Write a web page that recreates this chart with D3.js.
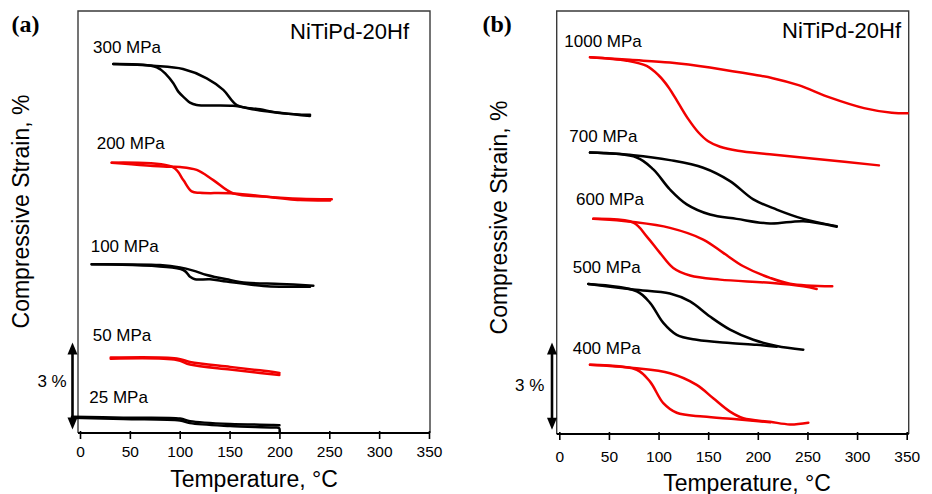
<!DOCTYPE html>
<html><head><meta charset="utf-8">
<script src="https://cdn.jsdelivr.net/npm/d3@7"></script>
<style>
body{margin:0;background:#fff}
svg{display:block}
text{font-family:"Liberation Sans",Arial,sans-serif;fill:#000}
</style>
</head><body>
<svg id="chart" width="932" height="494"></svg>
<script>
// ---------------- DATA ----------------
const xTicks = [0, 50, 100, 150, 200, 250, 300, 350];
const panelLabels = ["(a)", "(b)"];
const alloyName = "NiTiPd-20Hf";
const xTitle = "Temperature, °C";
const yTitle = "Compressive Strain, %";
const scaleBarLabel = "3 %";
const scaleBarStrain = 3;           // % strain represented by the arrow
const scaleBarStartA = 0.12;
const scaleBarStartB = 0.15;

const loadsA = ["300 MPa", "200 MPa", "100 MPa", "50 MPa", "25 MPa"];
const loadsB = ["1000 MPa", "700 MPa", "600 MPa", "500 MPa", "400 MPa"];

// [temperature °C, strain %] ; heating branch (late transition) and cooling branch (early transition)
const heat300 = [[33.4,12.72],[73.5,12.66],[103.3,12.55],[127.1,12.23],[143.7,11.83],[157.2,11.31],[180.5,11.16],[203.9,11.02],[230.7,10.97]];
const cool300 = [[33.4,12.72],[76.9,12.61],[87,12.34],[93.6,12.06],[98.6,11.77],[105.3,11.54],[110.3,11.39],[117,11.31],[153.5,11.28],[180.5,11.12],[230.7,10.93]];
const heat200 = [[31.8,9.32],[87,9.18],[100.3,9.17],[117,9.07],[133.7,8.72],[153.8,8.26],[187.3,8.15],[220.7,8.08],[252.5,8.06]];
const cool200 = [[31.8,9.32],[93.6,9.16],[103.6,8.72],[112,8.33],[120.4,8.28],[153.8,8.26],[220.7,8.03],[250.8,8.02]];
const heat100 = [[11.7,5.82],[80.2,5.79],[100.3,5.71],[113.6,5.60],[127.1,5.45],[147.1,5.30],[167.2,5.18],[200.6,5.14],[234,5.08]];
const cool100 = [[11.7,5.82],[103.6,5.62],[110.3,5.39],[115.3,5.30],[130.4,5.30],[147.1,5.22],[183.9,5.07],[230.7,5.04]];
const heat50  = [[30.8,2.60],[97,2.57],[110.3,2.45],[150.5,2.28],[180.5,2.16],[200,2.07]];
const cool50  = [[30.8,2.56],[97,2.52],[110.3,2.36],[150.5,2.19],[180.5,2.07],[200,2.00]];
const heat25  = [[-8,0.56],[43.5,0.53],[100.3,0.50],[110.3,0.41],[150.5,0.31],[194,0.28],[200,0.27]];
const cool25  = [[-8,0.53],[43.5,0.48],[100.3,0.43],[110.3,0.34],[150.5,0.24],[194,0.19],[199.7,0.17],[200.2,0.05]];

const heat1000 = [[30.9,12.96],[71.2,12.87],[111.5,12.78],[151.8,12.61],[192.1,12.38],[215,12.24],[241,12.00],[273,11.57],[307,11.21],[335,11.05],[351,11.03]];
const cool1000 = [[30.9,12.96],[67.9,12.84],[88,12.66],[100,12.34],[110,11.93],[120,11.38],[130,10.83],[140,10.38],[150,10.07],[162,9.88],[180,9.74],[212,9.62],[262,9.45],[322,9.24]];
const heat700 = [[30.9,9.68],[74.6,9.59],[111.5,9.42],[145,9.16],[172,8.70],[195.5,8.07],[219,7.72],[245.8,7.40],[279.5,7.15]];
const cool700 = [[30.9,9.68],[78,9.51],[94.7,9.10],[111.5,8.41],[128.4,7.90],[151.8,7.55],[178.7,7.40],[212.3,7.24],[245.8,7.32],[279.5,7.13]];
const heat600 = [[34.3,7.40],[74.6,7.29],[111.5,7.09],[145,6.69],[165.2,6.23],[185.4,5.77],[212.3,5.37],[232.4,5.17],[275,5.08]];
const cool600 = [[34.3,7.40],[74.6,7.27],[88,6.80],[101.4,6.23],[114.8,5.71],[131.7,5.45],[161.9,5.31],[212.3,5.20],[245.8,5.08],[259.3,4.99]];
const heat500 = [[29.2,5.16],[74.6,4.97],[111.5,4.83],[131.7,4.56],[151.8,4.04],[172,3.59],[195.5,3.24],[219,3.03],[245.8,2.90]];
const cool500 = [[29.2,5.16],[78,4.91],[91.4,4.51],[104.8,3.82],[118.3,3.41],[138.4,3.24],[172,3.13],[198.9,3.07],[219,3.00]];
const heat400 = [[30.9,2.38],[74.6,2.27],[111.5,2.09],[138.4,1.69],[155.1,1.23],[172,0.77],[185.4,0.54],[212.3,0.42],[232.4,0.33],[250.9,0.39]];
const cool400 = [[30.9,2.38],[78,2.21],[91.4,1.80],[104.8,1.06],[118.3,0.73],[145,0.60],[178.7,0.51],[212.3,0.40]];

// ---------------- LAYOUT / STYLE ----------------
const RED = "#f20000", BLACK = "#000";
const panels = [
  {
    label: panelLabels[0], loads: loadsA,
    heat: [heat300, heat200, heat100, heat50, heat25],
    cool: [cool300, cool200, cool100, cool50, cool25],
    colors: [BLACK, RED, BLACK, RED, BLACK],
    xr: [80, 429], yr: [433, 11], frame: {l: 78, r: 430, t: 11, b: 433},
    labelPos: [[93,53],[96.7,149.3],[90.7,251.5],[92.7,341],[89.3,402.7]],
    panelLabelPos: [11.5, 31.5], alloyPos: [409, 39.3],
    yTitlePos: [29, 211.5], xTitlePos: [254, 486.5], tickY: 457,
    barX: 72.5, barStart: scaleBarStartA, barTextPos: [66.7, 386.7]
  },
  {
    label: panelLabels[1], loads: loadsB,
    heat: [heat1000, heat700, heat600, heat500, heat400],
    cool: [cool1000, cool700, cool600, cool500, cool400],
    colors: [RED, BLACK, RED, BLACK, RED],
    xr: [559.3, 906.7], yr: [434, 11], frame: {l: 556.7, r: 908.7, t: 11, b: 434},
    labelPos: [[564.3,46.7],[569.3,141.7],[576,205],[572.7,272.7],[572.7,354.3]],
    panelLabelPos: [482.5, 31.5], alloyPos: [901, 38.3],
    yTitlePos: [507, 217.5], xTitlePos: [747, 490.5], tickY: 461.5,
    barX: 552, barStart: scaleBarStartB, barTextPos: [544.3, 390.7]
  }
];

const svg = d3.select("#chart");

panels.forEach(p => {
  const x = d3.scaleLinear().domain([0, 350]).range(p.xr);
  const y = d3.scaleLinear().domain([0, 14.55]).range(p.yr);
  const g = svg.append("g");
  const f = p.frame;

  // frame
  g.append("path")
    .attr("d", `M${f.l},${f.b}V${f.t}H${f.r}V${f.b}`)
    .attr("fill", "none").attr("stroke", "#3a3a3a").attr("stroke-width", 1.4);

  // bottom axis
  const ax = g.append("g").attr("transform", `translate(0,${f.b})`)
    .call(d3.axisBottom(x).tickValues(xTicks).tickSizeInner(6).tickSizeOuter(0).tickPadding(8));
  ax.select(".domain").remove();
  ax.append("line").attr("x1", f.l).attr("x2", f.r).attr("y1", 0).attr("y2", 0)
    .attr("stroke", "#000").attr("stroke-width", 1.8);
  ax.selectAll(".tick line").attr("y1", -2).attr("y2", 6).attr("stroke", "#000").attr("stroke-width", 1.6);
  ax.selectAll(".tick text").attr("y", null).attr("dy", null)
    .attr("transform", `translate(0,${p.tickY - f.b})`)
    .style("font-size", "15.5px").style("font-family", '"Liberation Sans",Arial,sans-serif')
    .attr("fill", "#000");

  // curves
  const line = d3.line().x(d => x(d[0])).y(d => y(d[1])).curve(d3.curveCatmullRom.alpha(0.5));
  p.loads.forEach((ld, i) => {
    [p.cool[i], p.heat[i]].forEach(arr => {
      g.append("path").datum(arr).attr("d", line)
        .attr("fill", "none").attr("stroke", p.colors[i])
        .attr("stroke-width", 2.5).attr("stroke-linejoin", "round").attr("stroke-linecap", "round");
    });
    g.append("text").attr("x", p.labelPos[i][0]).attr("y", p.labelPos[i][1])
      .style("font-size", "17px").text(ld);
  });

  // scale bar (3 %)
  const yTop = y(p.barStart + scaleBarStrain), yBot = y(p.barStart);
  const ah = 12, aw = 5;
  g.append("line").attr("x1", p.barX).attr("x2", p.barX)
    .attr("y1", yTop + ah - 2).attr("y2", yBot - ah + 2)
    .attr("stroke", "#000").attr("stroke-width", 2.6);
  g.append("path").attr("d", `M${p.barX},${yTop}L${p.barX - aw},${yTop + ah}L${p.barX + aw},${yTop + ah}Z`).attr("fill", "#000");
  g.append("path").attr("d", `M${p.barX},${yBot}L${p.barX - aw},${yBot - ah}L${p.barX + aw},${yBot - ah}Z`).attr("fill", "#000");
  g.append("text").attr("x", p.barTextPos[0]).attr("y", p.barTextPos[1])
    .attr("text-anchor", "end").style("font-size", "17px").text(scaleBarLabel);

  // texts
  g.append("text").attr("x", p.panelLabelPos[0]).attr("y", p.panelLabelPos[1])
    .style("font-family", '"Liberation Serif","Times New Roman",serif')
    .style("font-weight", "bold").style("font-size", "24px").text(p.label);
  g.append("text").attr("x", p.alloyPos[0]).attr("y", p.alloyPos[1])
    .attr("text-anchor", "end").style("font-size", "22px").text(alloyName);
  g.append("text").attr("transform", `translate(${p.yTitlePos[0]},${p.yTitlePos[1]}) rotate(-90)`)
    .attr("text-anchor", "middle").style("font-size", "23px").text(yTitle);
  g.append("text").attr("x", p.xTitlePos[0]).attr("y", p.xTitlePos[1])
    .attr("text-anchor", "middle").style("font-size", "23px").text(xTitle);
});
</script>
</body></html>
